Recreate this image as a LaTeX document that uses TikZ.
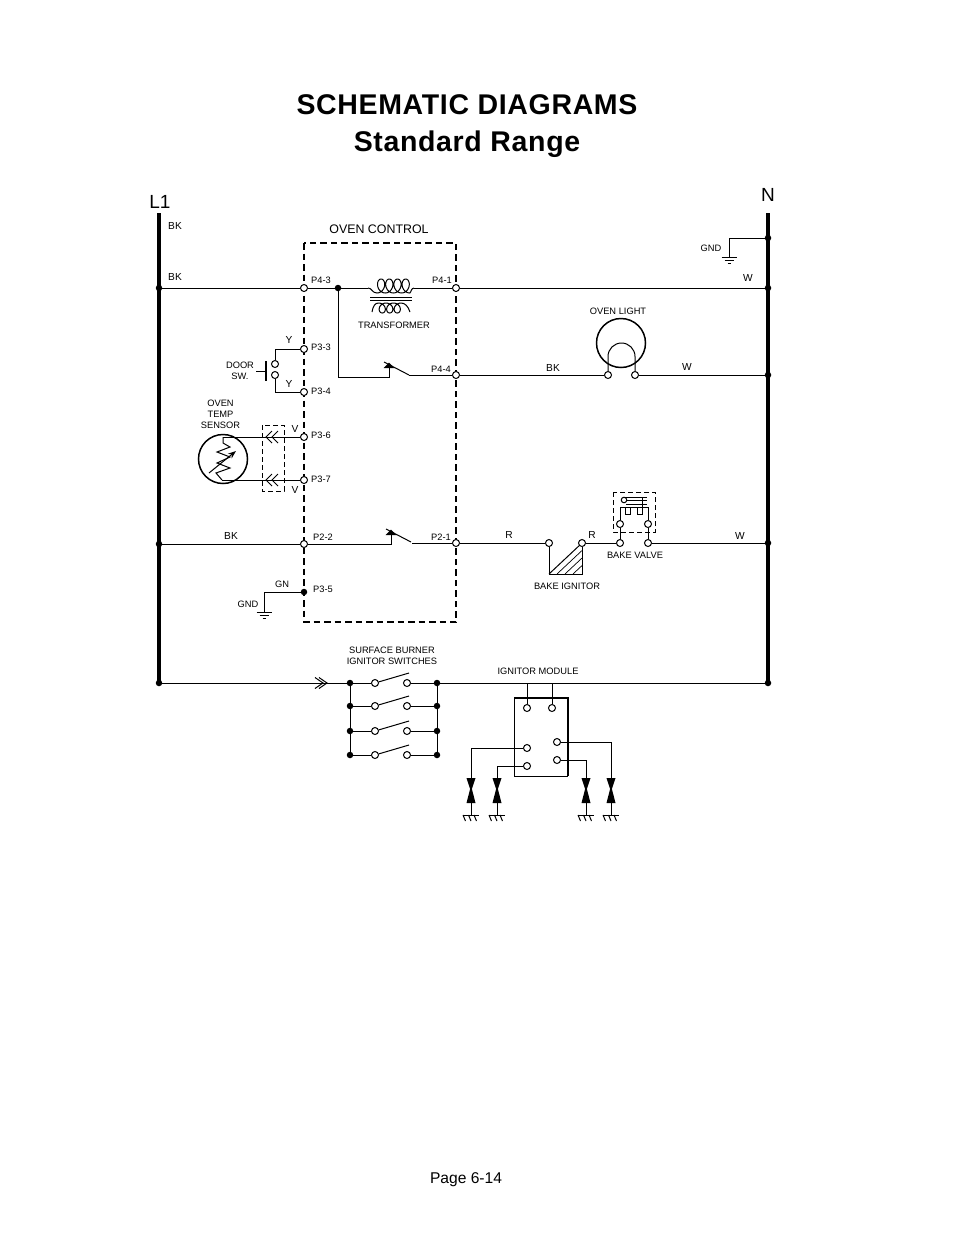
\documentclass[tikz,border=0pt]{standalone}
\usepackage{fontspec}
\setmainfont{Liberation Sans}
\usetikzlibrary{arrows.meta}

\tikzset{
	wire/.style={line width=1pt},
	pin/.style={circle,draw,fill=white,line width=1pt,inner sep=0pt,minimum size=7pt},
	dot/.style={circle,fill=black,inner sep=0pt,minimum size=6.5pt},
	lab/.style={inner sep=0pt,align=center,font=\fontsize{9.3}{11}\selectfont},
	wirelab/.style={inner sep=0pt,font=\fontsize{10.2}{12}\selectfont},
	titlelab/.style={inner sep=0pt,anchor=base,font=\fontsize{28.5}{32}\selectfont\bfseries\addfontfeatures{LetterSpace=2.3}},
	bus/.style={line width=3.4pt},
	boxdash/.style={line width=1.9pt,dash pattern=on 6.5pt off 4pt},
	thindash/.style={line width=0.9pt,dash pattern=on 5pt off 3pt},
	groundbars/.pic={
		\draw[wire] (-7.5,0) -- (7.5,0);
		\draw[wire] (-4.5,3) -- (4.5,3);
		\draw[wire] (-1.5,6) -- (1.5,6);
	},
	chassis/.pic={
		\draw[wire] (-8,0) -- (8,0);
		\foreach \tick in {-8,-2.5,3} {
			\draw[wire] (\tick,0) -- ++(2.5,6);
		}
	},
	sparkgap/.pic={
		\fill (-4.5,0) -- (4.5,0) -- (0.9,11) -- (4.5,25) -- (-4.5,25) -- (-0.9,11) -- cycle;
	},
	contact/.pic={
		\fill (-5.5,0) -- (5.5,0) -- (0,-5.5) -- cycle;
		\draw[wire] (-5,-6) -- (20,7);
	}
}

\begin{document}
\begin{tikzpicture}[x=1pt,y=-1pt]
	\useasboundingbox (0,0) rectangle (954,1235);

	\node[titlelab] (title) at (467,114.5) {SCHEMATIC DIAGRAMS};
	\node[titlelab] (subtitle) at (467,151.5) {Standard Range};
	\node[inner sep=0pt,anchor=base,font=\fontsize{15.6}{18}\selectfont] (page) at (466,1183.5) {Page 6-14};

	\draw[boxdash] (304,243) rectangle (456,622);
	\draw[thindash] (262,425) rectangle (284,491);
	\draw[thindash] (613,492) rectangle (655,532);

	\node[inner sep=0pt,font=\fontsize{19}{22}\selectfont] (lone) at (160,202) {L1};
	\node[inner sep=0pt,font=\fontsize{19}{22}\selectfont] (neutral) at (768,195) {N};
	\coordinate (lonetop) at (159,213);
	\coordinate (ntop) at (768,213);
	\node[dot] (la) at (159,288) {};
	\node[dot] (lb) at (159,544) {};
	\node[dot] (lc) at (159,683) {};
	\node[dot] (na) at (768,238) {};
	\node[dot] (nb) at (768,288) {};
	\node[dot] (nc) at (768,375) {};
	\node[dot] (nd) at (768,543) {};
	\node[dot] (ne) at (768,683) {};
	\draw[bus] (lonetop) -- (lc.center);
	\draw[bus] (ntop) -- (ne.center);

	\node[pin] (pfourthree) at (304,288) {};
	\node[pin] (pfourone) at (456,288) {};
	\node[pin] (pfourfour) at (456,375) {};
	\node[pin] (pthreethree) at (304,349) {};
	\node[pin] (pthreefour) at (304,392) {};
	\node[pin] (pthreesix) at (304,437) {};
	\node[pin] (pthreeseven) at (304,480) {};
	\node[pin] (ptwotwo) at (304,544) {};
	\node[pin] (ptwoone) at (456,543) {};
	\node[dot] (pthreefive) at (304,592) {};
	\node[dot] (tfjoin) at (338,288) {};

	\draw[wire] (la) -- (pfourthree) -- (tfjoin);
	\coordinate (tfleft) at (368,288);
	\coordinate (tfright) at (414,288);
	\coordinate (tfcoreleft) at (370,297);
	\coordinate (tfcoreright) at (412,297);
	\draw[wire] (tfjoin) -- (tfleft);
	\draw[wire] (tfleft) .. controls (372,288) and (372,293) .. (377,293)
		-- plot[domain=0:1440,samples=145] ({377+\x/360*8.2+5.5*sin(\x)},{293-7*(1-cos(\x))})
		.. controls (411,293) and (411,288) .. (tfright);
	\draw[wire] (tfright) -- (pfourone);
	\draw[wire] (pfourone) -- (nb);
	\draw[wire] (tfcoreleft) -- (tfcoreright);
	\draw[wire] ([yshift=-3pt]tfcoreleft) -- ([yshift=-3pt]tfcoreright);
	\draw[wire] (372,312) .. controls (373,306) and (375,303) .. (378.5,303)
		-- plot[domain=0:1080,samples=109] ({378.5+\x/360*7.5+4.8*sin(\x)},{303+5*(1-cos(\x))})
		.. controls (405,303) and (408,306) .. (410,312);

	\node[pin] (lighta) at (608,375) {};
	\node[pin] (lightb) at (635,375) {};
	\node[circle,draw,line width=1.5pt,inner sep=0pt,minimum size=49pt] (lamp) at (621,343) {};
	\draw[wire] (lighta) -- (608,356.5) arc[start angle=180,end angle=360,radius=13.5] -- (lightb);
	\draw[wire] (pfourfour) -- (lighta);
	\draw[wire] (lightb) -- (nc);

	\coordinate (relaya) at (389,368);
	\coordinate (relayb) at (409,375);
	\draw[wire] (tfjoin) |- (338,377) -- (389,377) -- (relaya);
	\pic at (relaya) {contact};
	\draw[wire] (relayb) -- (pfourfour);

	\node[pin] (doora) at (275,364) {};
	\node[pin] (doorb) at (275,375) {};
	\draw[wire] (doora) |- (pthreethree);
	\draw[wire] (doorb) |- (pthreefour);
	\coordinate (doorbartop) at (266,361);
	\coordinate (doorbarbot) at (266,381);
	\coordinate (doorstub) at (256,371);
	\draw[line width=2.6pt] (doorbartop) -- (doorbarbot);
	\draw[wire] (doorstub) -- (266,371);

	\node[circle,draw,line width=1.5pt,inner sep=0pt,minimum size=49pt] (tempsensor) at (223,459) {};
	\coordinate (senstop) at (223,437);
	\coordinate (sensbot) at (222,480);
	\draw[wire] (pthreesix) -- (senstop);
	\draw[wire] (pthreeseven) -- (sensbot);
	\draw[wire] (senstop) -- (223,443) -- (230,447) -- (217,452) -- (230,457) -- (217,463) -- (230,468) -- (216,473) -- (222,480);
	\draw[wire,-{Stealth[length=8pt,width=6pt]}] (209,473) -- (236,451);
	\foreach \chevy in {437,480} {
		\foreach \chevx in {266,272} {
			\draw[wire] (\chevx+6,\chevy-6) -- (\chevx,\chevy) -- (\chevx+6,\chevy+6);
		}
	}

	\coordinate (relayc) at (391,535);
	\coordinate (relayd) at (412,543);
	\draw[wire] (lb) -- (ptwotwo) -- (391,544) -- (relayc);
	\pic at (relayc) {contact};
	\draw[wire] (relayd) -- (ptwoone);

	\coordinate (gndturn) at (264,612);
	\draw[wire] (pthreefive) -| (gndturn);
	\pic at (gndturn) {groundbars};

	\coordinate (gndtop) at (729,257);
	\draw[wire] (na) -| (gndtop);
	\pic at (gndtop) {groundbars};

	\node[pin] (ignleft) at (549,543) {};
	\node[pin] (ignright) at (582,543) {};
	\node[pin] (valvea) at (620,543) {};
	\node[pin] (valveb) at (648,543) {};
	\node[pin] (valvec) at (620,524) {};
	\node[pin] (valved) at (648,524) {};
	\draw[wire] (ptwoone) -- (ignleft);
	\coordinate (ignfoot) at (549,574);
	\coordinate (igncorner) at (582,574);
	\draw[wire] (ignleft) -- (ignfoot) -- (igncorner) -- (ignright);
	\draw[wire] (ignfoot) -- (ignright);
	\foreach \hatch in {8,16,24} {
		\draw[line width=0.7pt] (549+\hatch,574) -- (582,543+\hatch*0.94);
	}
	\draw[wire] (ignright) -- (valvea);
	\draw[wire] (valvea) -- (valvec);
	\draw[wire] (valveb) -- (valved);
	\draw[wire] (valveb) -- (nd);
	\draw[line width=0.9pt] (valvec) |- (648,507) -- (valved);
	\draw[line width=0.9pt] (625,507) -- (625,514) -- (630,514) -- (630,507);
	\draw[line width=0.9pt] (637,507) -- (637,514) -- (642,514) -- (642,497);
	\node[pin,minimum size=5.5pt] (valvecoil) at (624,500) {};
	\draw[line width=0.8pt] (624,497) -- (647,497);
	\draw[line width=0.8pt] (valvecoil) -- (647,500);
	\draw[line width=0.8pt] (626,504) -- (647,504);

	\node[dot] (swla) at (350,683) {};
	\node[dot] (swlb) at (350,706) {};
	\node[dot] (swlc) at (350,731) {};
	\node[dot] (swld) at (350,755) {};
	\node[dot] (swra) at (437,683) {};
	\node[dot] (swrb) at (437,706) {};
	\node[dot] (swrc) at (437,731) {};
	\node[dot] (swrd) at (437,755) {};
	\foreach \swname/\swy in {a/683,b/706,c/731,d/755} {
		\node[pin] (swi\swname) at (375,\swy) {};
		\node[pin] (swo\swname) at (407,\swy) {};
		\draw[wire] (swl\swname) -- (swi\swname);
		\draw[wire] (swo\swname) -- (swr\swname);
		\draw[wire] (swi\swname) -- (409,\swy-10);
	}
	\draw[wire] (swla) -- (swld);
	\draw[wire] (swra) -- (swrd);
	\draw[wire] (lc) -- (swla);
	\draw[wire] (swra) -- (ne);
	\foreach \chevx in {323,327} {
		\draw[wire] (\chevx-8,677.5) -- (\chevx,683) -- (\chevx-8,688.5);
	}

	\draw[line width=1pt] (514,698) |- (568,776);
	\draw[line width=1.9pt] (514,698) -| (568,776);
	\node[pin] (moda) at (527,708) {};
	\node[pin] (modb) at (552,708) {};
	\node[pin] (modc) at (557,742) {};
	\node[pin] (modd) at (557,760) {};
	\node[pin] (mode) at (527,748) {};
	\node[pin] (modf) at (527,766) {};
	\coordinate (modatop) at (527,683);
	\coordinate (modbtop) at (552,683);
	\draw[wire] (moda) -- (modatop);
	\draw[wire] (modb) -- (modbtop);
	\foreach \gapname/\gapx/\gapfrom in {gapa/471/mode,gapb/497/modf,gapc/586/modd,gapd/611/modc} {
		\coordinate (\gapname) at (\gapx,778);
		\coordinate (\gapname low) at (\gapx,815);
		\draw[wire] (\gapfrom) -| (\gapname);
		\pic at (\gapname) {sparkgap};
		\draw[wire] (\gapx,803) -- (\gapname low);
		\pic at (\gapname low) {chassis};
	}

	\node[inner sep=0pt,font=\fontsize{12.4}{14}\selectfont] (ovencontrol) at (379,229.5) {OVEN CONTROL};
	\node[wirelab] (lbkone) at (175,226) {BK};
	\node[wirelab] (lbktwo) at (175,277) {BK};
	\node[wirelab] (lbkthree) at (553,368) {BK};
	\node[wirelab] (lbkfour) at (231,536) {BK};
	\node[wirelab] (lwone) at (748,278) {W};
	\node[wirelab] (lwtwo) at (687,367) {W};
	\node[wirelab] (lwthree) at (740,536) {W};
	\node[wirelab] (lrone) at (509,535) {R};
	\node[wirelab] (lrtwo) at (592,535) {R};
	\node[wirelab] (lyone) at (289,340) {Y};
	\node[wirelab] (lytwo) at (289,384) {Y};
	\node[wirelab] (lvone) at (295,429) {V};
	\node[wirelab] (lvtwo) at (295,490) {V};
	\node[lab] (lgn) at (282,584) {GN};
	\node[lab] (lgndone) at (248,604) {GND};
	\node[lab] (lgndtwo) at (711,248) {GND};
	\node[lab] (lpa) at (321,280) {P4-3};
	\node[lab] (lpb) at (442,280) {P4-1};
	\node[lab] (lpc) at (321,347) {P3-3};
	\node[lab] (lpd) at (441,369) {P4-4};
	\node[lab] (lpe) at (321,391) {P3-4};
	\node[lab] (lpf) at (321,435) {P3-6};
	\node[lab] (lpg) at (321,479) {P3-7};
	\node[lab] (lph) at (323,537) {P2-2};
	\node[lab] (lpi) at (441,537) {P2-1};
	\node[lab] (lpj) at (323,589) {P3-5};
	\node[lab] (ltransformer) at (394,325) {TRANSFORMER};
	\node[lab] (ldoor) at (240,370.5) {DOOR\\SW.};
	\node[lab] (lsensor) at (220.5,414) {OVEN\\TEMP\\SENSOR};
	\node[lab] (llight) at (618,311) {OVEN LIGHT};
	\node[lab] (lvalve) at (635,555) {BAKE VALVE};
	\node[lab] (lignitor) at (567,586) {BAKE IGNITOR};
	\node[lab] (lswitches) at (392,655.5) {SURFACE BURNER\\IGNITOR SWITCHES};
	\node[lab] (lmodule) at (538,671) {IGNITOR MODULE};
\end{tikzpicture}
\end{document}
